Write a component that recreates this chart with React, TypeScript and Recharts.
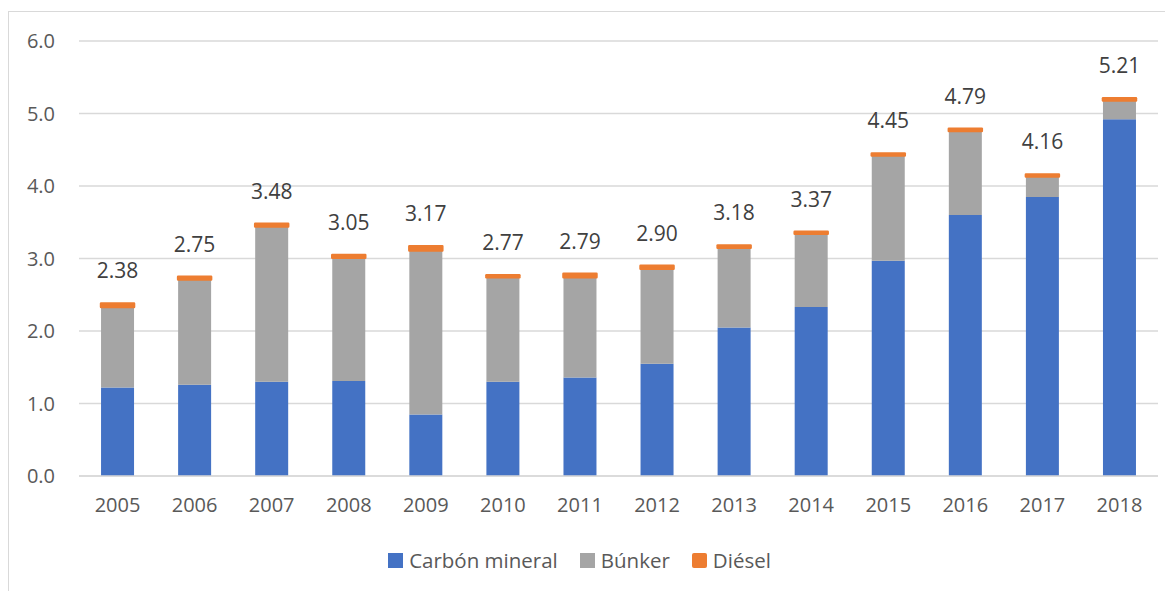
import React from "react";
import { BarChart, Bar, XAxis, YAxis, CartesianGrid, Legend, LabelList } from "recharts";

const years = ["2005", "2006", "2007", "2008", "2009", "2010", "2011", "2012", "2013", "2014", "2015", "2016", "2017", "2018"];
const carbon = [1.22, 1.26, 1.30, 1.31, 0.85, 1.30, 1.36, 1.55, 2.05, 2.33, 2.97, 3.60, 3.85, 4.92];
const bunker = [1.11, 1.45, 2.14, 1.70, 2.26, 1.44, 1.38, 1.31, 1.10, 1.01, 1.45, 1.16, 0.28, 0.26];
const diesel = [0.05, 0.04, 0.04, 0.04, 0.06, 0.03, 0.05, 0.04, 0.03, 0.03, 0.03, 0.03, 0.03, 0.03];
const totals = ["2.38", "2.75", "3.48", "3.05", "3.17", "2.77", "2.79", "2.90", "3.18", "3.37", "4.45", "4.79", "4.16", "5.21"];
const yTicks = [0, 1, 2, 3, 4, 5, 6];

const seriesNames = ["Carbón mineral", "Búnker", "Diésel"];
const colors = ["#4472c4", "#a5a5a5", "#ed7d31"];

const data = years.map((y, i) => ({
  year: y,
  carbon: carbon[i],
  bunker: bunker[i],
  diesel: diesel[i],
  total: totals[i],
}));

const FONT = "'Open Sans', sans-serif";

const renderLabel = (props: any) => {
  const { x, y, width, value } = props;
  return (
    <text
      x={Number(x) + Number(width) / 2}
      y={Number(y) - 25}
      textAnchor="middle"
      fill="#404040"
      fontSize={21}
      fontFamily={FONT}
    >
      {value}
    </text>
  );
};

const renderLegend = () => (
  <div
    style={{
      height: 30,
      display: "flex",
      justifyContent: "center",
      alignItems: "center",
      fontFamily: FONT,
      fontSize: 20.5,
      color: "#595959",
      paddingRight: 8,
    }}
  >
    {seriesNames.map((n, i) => (
      <div key={n} style={{ display: "flex", alignItems: "center", marginRight: i < 2 ? 22 : 0 }}>
        <div style={{ width: 15, height: 15, background: colors[i], marginRight: 6, borderRadius: i === 2 ? 2 : 0 }} />
        <span>{n}</span>
      </div>
    ))}
  </div>
);

export default function App() {
  return (
    <div style={{ marginTop: 3, border: "1px solid #d9d9d9", width: 1170, height: 585, boxSizing: "content-box" }}>
      <BarChart
        width={1164}
        height={578}
        data={data}
        margin={{ top: 29, right: 15, left: 0, bottom: 15 }}
        barCategoryGap="28.6%"
      >
        <CartesianGrid vertical={false} stroke="#d9d9d9" strokeWidth={1.5} />
        <XAxis
          dataKey="year"
          height={69}
          axisLine={{ stroke: "#d9d9d9", strokeWidth: 1.5 }}
          tickLine={false}
          tickMargin={16}
          tick={{ fill: "#595959", fontSize: 20, fontFamily: FONT }}
        />
        <YAxis
          width={70}
          domain={[0, 6]}
          ticks={yTicks}
          tickFormatter={(v: number) => v.toFixed(1)}
          axisLine={false}
          tickLine={false}
          tickMargin={18}
          tick={{ fill: "#595959", fontSize: 20, fontFamily: FONT }}
        />
        <Legend verticalAlign="bottom" content={renderLegend} />
        <Bar dataKey="carbon" name={seriesNames[0]} stackId="a" fill={colors[0]} isAnimationActive={false} />
        <Bar dataKey="bunker" name={seriesNames[1]} stackId="a" fill={colors[1]} isAnimationActive={false} />
        <Bar
          dataKey="diesel"
          name={seriesNames[2]}
          stackId="a"
          fill={colors[2]}
          stroke={colors[2]}
          strokeWidth={2.5}
          strokeLinejoin="round"
          isAnimationActive={false}
        >
          <LabelList dataKey="total" content={renderLabel} />
        </Bar>
      </BarChart>
    </div>
  );
}
